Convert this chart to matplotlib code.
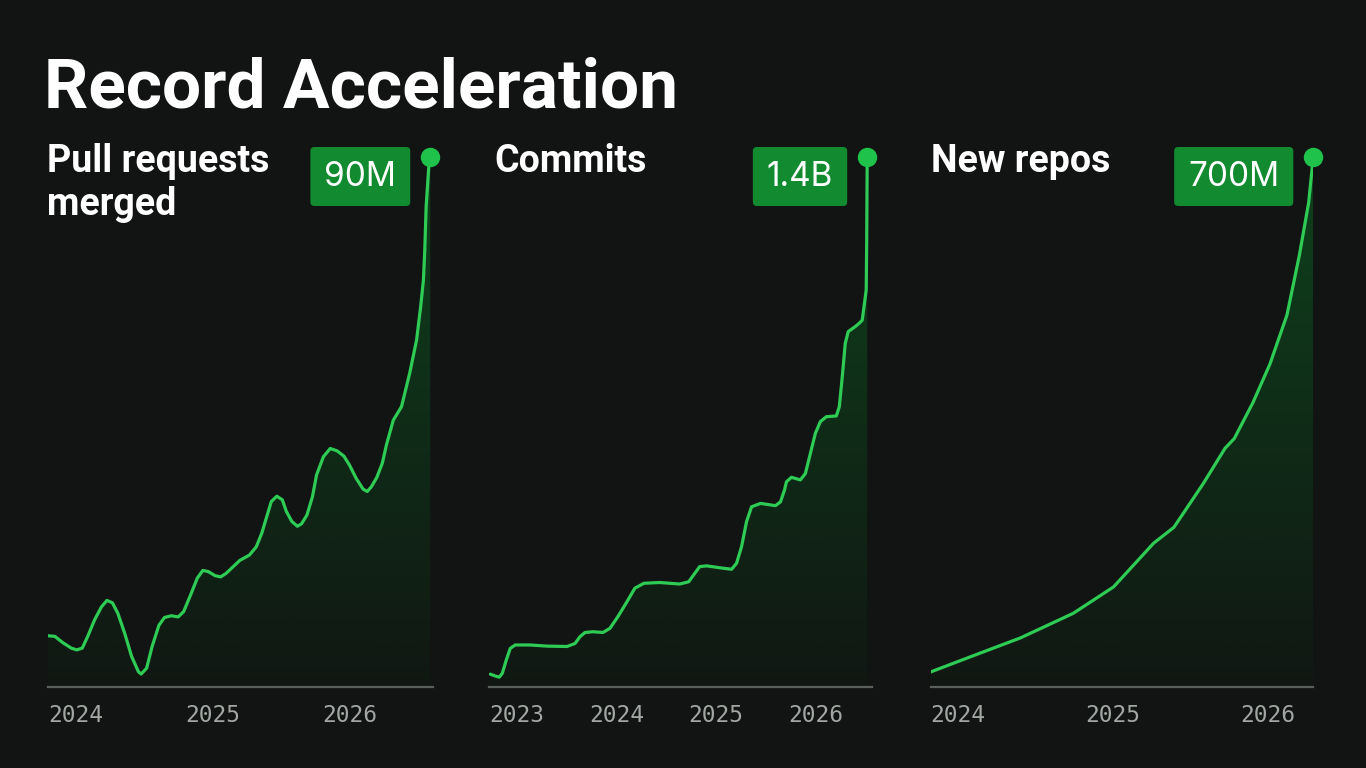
import numpy as np
import matplotlib.pyplot as plt
from matplotlib.patches import BoxStyle

# pull requests merged (millions), x in fractional years
pr_x = [2024.00, 2024.05, 2024.11, 2024.17, 2024.21, 2024.25, 2024.29, 2024.34, 2024.39, 2024.43,
        2024.47, 2024.51, 2024.56, 2024.61, 2024.66, 2024.68, 2024.72, 2024.76, 2024.81, 2024.85,
        2024.90, 2024.95, 2024.99, 2025.04, 2025.09, 2025.13, 2025.17, 2025.22, 2025.26, 2025.30,
        2025.35, 2025.40, 2025.47, 2025.52, 2025.56, 2025.60, 2025.63, 2025.67, 2025.71, 2025.74,
        2025.78, 2025.82, 2025.85, 2025.89, 2025.93, 2025.96, 2026.01, 2026.06, 2026.11, 2026.16,
        2026.20, 2026.25, 2026.30, 2026.33, 2026.36, 2026.40, 2026.44, 2026.47, 2026.52, 2026.58,
        2026.64, 2026.69, 2026.72, 2026.74, 2026.75, 2026.76, 2026.78, 2026.79]
pr_y = [8.7, 8.6, 7.5, 6.6, 6.3, 6.6, 8.6, 11.4, 13.6, 14.7,
        14.3, 12.5, 9.1, 5.2, 2.6, 2.2, 3.2, 6.9, 10.5, 11.8,
        12.1, 11.9, 12.8, 15.6, 18.5, 19.8, 19.6, 18.9, 18.7, 19.3,
        20.4, 21.5, 22.4, 23.8, 26.1, 29.2, 31.5, 32.4, 31.8, 29.8,
        28.1, 27.3, 27.7, 29.2, 32.3, 36.0, 39.1, 40.5, 40.1, 39.2,
        37.7, 35.4, 33.6, 33.2, 34.0, 35.6, 38.0, 41.1, 45.3, 47.6,
        53.3, 58.9, 64.6, 69.1, 74.2, 81.6, 88.6, 90.0]

# commits (billions)
cm_x = [2023.01, 2023.06, 2023.10, 2023.13, 2023.17, 2023.21, 2023.26, 2023.41, 2023.58, 2023.78,
        2023.86, 2023.91, 2023.96, 2024.04, 2024.14, 2024.21, 2024.29, 2024.38, 2024.46, 2024.55,
        2024.71, 2024.91, 2025.00, 2025.06, 2025.11, 2025.18, 2025.31, 2025.43, 2025.48, 2025.53,
        2025.58, 2025.63, 2025.72, 2025.87, 2025.92, 2025.96, 2025.98, 2026.03, 2026.12, 2026.17,
        2026.22, 2026.27, 2026.32, 2026.38, 2026.48, 2026.51, 2026.54, 2026.57, 2026.60, 2026.67,
        2026.71, 2026.74, 2026.78, 2026.785, 2026.79]
cm_y = [0.034, 0.029, 0.026, 0.036, 0.071, 0.102, 0.111, 0.111, 0.108, 0.107,
        0.115, 0.133, 0.144, 0.146, 0.144, 0.155, 0.186, 0.225, 0.261, 0.274,
        0.276, 0.272, 0.278, 0.300, 0.318, 0.320, 0.315, 0.311, 0.327, 0.371,
        0.437, 0.476, 0.485, 0.479, 0.489, 0.520, 0.542, 0.554, 0.547, 0.564,
        0.617, 0.670, 0.701, 0.714, 0.716, 0.740, 0.820, 0.908, 0.939, 0.952,
        0.961, 0.969, 1.049, 1.181, 1.400]

# new repos (millions)
nr_x = [2024.00, 2024.25, 2024.58, 2024.92, 2025.18, 2025.44, 2025.57, 2025.76, 2025.90, 2025.96,
        2026.08, 2026.19, 2026.30, 2026.38, 2026.44, 2026.47]
nr_y = [19.9, 39.4, 64.9, 97.3, 132.1, 190.1, 210.9, 268.8, 315.2, 328.2,
        375.5, 426.5, 491.3, 570.2, 639.7, 700.0]

titles = ["Pull requests\nmerged", "Commits", "New repos"]
badges = ["90M", "1.4B", "700M"]
ticks = [[2024, 2025, 2026], [2023, 2024, 2025, 2026], [2024, 2025, 2026]]
xlims = [(2024, 2026.81), (2023, 2026.835), (2024, 2026.47)]
ylims = [90, 1.4, 700]

BG = '#111412'
LINE = '#2ecc55'
W, H = 1366, 768

fig = plt.figure(figsize=(W / 100, H / 100), dpi=100, facecolor=BG)

fig.text(44 / W, 1 - 107 / H, "Record Acceleration", color='white', fontsize=50,
         fontweight='bold', family='Roboto', va='baseline')


def badge_box(x0, y0, width, height, mutation_size):
    padx = 14
    pady = (59 - height) / 2
    return BoxStyle.Round(pad=0, rounding_size=0.12)(
        x0 - padx, y0 - pady, width + 2 * padx, height + 2 * pady, mutation_size)


lefts = [48, 489.3, 930.7]
widths = [385, 382.4, 382.6]
title_x = [47, 494, 931]
series = [(pr_x, pr_y), (cm_x, cm_y), (nr_x, nr_y)]

# vertical gradient for the area fill
grad = np.zeros((256, 1, 4))
grad[:, 0, 0] = 10 / 255
grad[:, 0, 1] = 140 / 255
grad[:, 0, 2] = 45 / 255
grad[:, 0, 3] = np.linspace(0.38, 0.03, 256)

for i in range(3):
    ax = fig.add_axes([lefts[i] / W, (H - 687) / H, widths[i] / W, 530 / H])
    ax.set_facecolor(BG)
    x, y = series[i]
    ax.set_xlim(*xlims[i])
    ax.set_ylim(0, ylims[i])

    poly = ax.fill_between(x, 0, y, color='none', lw=0)
    im = ax.imshow(grad, extent=[xlims[i][0], xlims[i][1], 0, ylims[i]], aspect='auto',
                   origin='upper', zorder=1)
    im.set_clip_path(poly.get_paths()[0], transform=ax.transData)

    ax.plot(x, y, color=LINE, lw=2.3, solid_joinstyle='round', solid_capstyle='round', zorder=3)
    ax.plot(x[-1], y[-1], 'o', color='#1fc24a', markersize=13, clip_on=False, zorder=4)

    ax.annotate(badges[i], xy=(x[-1], y[-1]), xytext=(-34, -19.5), textcoords='offset pixels',
                ha='right', va='center', fontsize=24, color='white', family='Inter',
                bbox=dict(boxstyle=badge_box, fc='#128a30', ec='none'),
                annotation_clip=False, zorder=5)

    for s in ['top', 'left', 'right']:
        ax.spines[s].set_visible(False)
    ax.spines['bottom'].set_color('#5c605c')
    ax.spines['bottom'].set_linewidth(1.6)
    ax.set_yticks([])
    ax.set_xticks(ticks[i])
    ax.set_xticklabels([str(t) for t in ticks[i]], ha='left', family='DejaVu Sans Mono',
                       fontsize=16.5, color='#a3a7a3')
    ax.tick_params(axis='x', length=0, pad=12)

    fig.text(title_x[i] / W, 1 - 143 / H, titles[i], color='white', fontsize=27,
             fontweight='semibold', family='Roboto', va='top', linespacing=1.2)

plt.savefig("out.png", dpi=100, facecolor=BG)
